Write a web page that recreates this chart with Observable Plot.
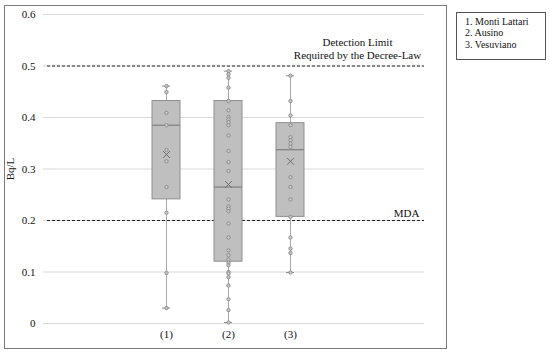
<!DOCTYPE html>
<html>
<head>
<meta charset="utf-8">
<script src="https://cdn.jsdelivr.net/npm/d3@7"></script>
<script src="https://cdn.jsdelivr.net/npm/@observablehq/plot@0.6"></script>
<style>
  body { margin: 0; background: #fff; }
  #wrap { position: relative; width: 550px; height: 355px; font-family: "Liberation Serif", "Times New Roman", serif; }
  #frame { position: absolute; left: 4px; top: 5px; width: 443px; height: 344px; border: 1px solid #7a7a7a; box-sizing: border-box; }
  #legend { position: absolute; left: 456px; top: 12px; width: 90px; height: 48px; border: 1px solid #555; box-sizing: border-box; padding: 3px 0 0 8px; font-size: 10px; line-height: 11.3px; color: #111; }
  #chart { position: absolute; left: 0; top: 0; }
</style>
</head>
<body>
<div id="wrap">
  <div id="frame"></div>
  <div id="chart"></div>
  <div id="legend"></div>
</div>
<script>
// ---- data ----
const categories = ["(1)", "(2)", "(3)"];
const legendLabels = ["1. Monti Lattari", "2. Ausino", "3. Vesuviano"];
const mins    = [0.030, 0.002, 0.099];
const q1s     = [0.241, 0.120, 0.207];
const medians = [0.385, 0.265, 0.3375];
const q3s     = [0.432, 0.432, 0.389];
const maxs    = [0.461, 0.490, 0.481];
const means   = [0.328, 0.270, 0.315];
const points1 = [0.461, 0.449, 0.409, 0.385, 0.337, 0.315, 0.265, 0.215, 0.098, 0.030];
const points2 = [0.490, 0.484, 0.477, 0.458, 0.432, 0.414, 0.401, 0.396, 0.391, 0.385, 0.365, 0.335,
                 0.3135, 0.296, 0.241, 0.2275, 0.223, 0.218, 0.194, 0.167, 0.142, 0.1325, 0.124,
                 0.1176, 0.113, 0.100, 0.097, 0.090, 0.074, 0.047, 0.026, 0.002];
const points3 = [0.481, 0.432, 0.404, 0.385, 0.362, 0.356, 0.349, 0.343, 0.284, 0.265, 0.241,
                 0.207, 0.167, 0.1455, 0.137, 0.099];
const yTicks = [0, 0.1, 0.2, 0.3, 0.4, 0.5, 0.6];
const limitValues = [0.5, 0.2];
const limitLabels = ["Detection Limit\nRequired by the Decree-Law", "MDA"];
const yLabel = "Bq/L";

// ---- tables built from the arrays ----
const stats = categories.map((c, i) => ({
  cat: c, min: mins[i], q1: q1s[i], med: medians[i], q3: q3s[i], max: maxs[i], mean: means[i]
}));
const pts = [points1, points2, points3].flatMap((arr, i) => arr.map(v => ({cat: categories[i], v})));

const boxInset = 17;
const capInset = 27;

const chart = Plot.plot({
  width: 550,
  height: 355,
  marginLeft: 43,
  marginRight: 126,
  marginTop: 14,
  marginBottom: 32,
  style: {fontFamily: "Liberation Serif, Times New Roman, serif", fontSize: "11px", color: "#111", background: "transparent"},
  x: {type: "band", domain: categories, range: [134, 321], padding: 0},
  y: {domain: [0, 0.6]},
  marks: [
    Plot.gridY(yTicks, {stroke: "#d9d9d9", strokeOpacity: 1}),
    Plot.axisY({ticks: yTicks, tickSize: 0, tickPadding: 8, label: null,
                tickFormat: d => String(+d.toFixed(1))}),
    Plot.axisX({tickSize: 0, tickPadding: 7, label: null}),
    Plot.text([yLabel], {frameAnchor: "left", dx: -33, rotate: -90, textAnchor: "middle", fontSize: 11}),
    Plot.ruleY(limitValues, {stroke: "#222", strokeDasharray: "3,2", strokeWidth: 1, insetLeft: 4}),
    Plot.text([0], {y: () => limitValues[0], text: () => limitLabels[0], frameAnchor: "right", dx: -67,
                    textAnchor: "middle", lineAnchor: "bottom", dy: -7, lineHeight: 1.2, fontSize: 11}),
    Plot.text([0], {y: () => limitValues[1], text: () => limitLabels[1], frameAnchor: "right", dx: -5,
                    textAnchor: "end", lineAnchor: "bottom", dy: -4, fontSize: 11}),
    Plot.ruleX(stats, {x: "cat", y1: "min", y2: "max", stroke: "#a8a8a8", strokeWidth: 1}),
    Plot.tickY(stats, {x: "cat", y: "min", stroke: "#8c8c8c", insetLeft: capInset, insetRight: capInset}),
    Plot.tickY(stats, {x: "cat", y: "max", stroke: "#8c8c8c", insetLeft: capInset, insetRight: capInset}),
    Plot.barY(stats, {x: "cat", y1: "q1", y2: "q3", fill: "#bfbfbf", stroke: "#8f8f8f", strokeWidth: 1,
                      insetLeft: boxInset, insetRight: boxInset}),
    Plot.tickY(stats, {x: "cat", y: "med", stroke: "#7f7f7f", strokeWidth: 1.2, insetLeft: boxInset, insetRight: boxInset}),
    Plot.dot(pts, {x: "cat", y: "v", r: 1.7, stroke: "#8a8a8a", fill: "#c8c8c8", strokeWidth: 0.9}),
    Plot.dot(stats, {x: "cat", y: "mean", symbol: "times", r: 3.2, stroke: "#6e6e6e", strokeWidth: 1})
  ]
});
document.getElementById("chart").appendChild(chart);
document.getElementById("legend").innerHTML = legendLabels.map(s => `<div>${s}</div>`).join("");
</script>
</body>
</html>
